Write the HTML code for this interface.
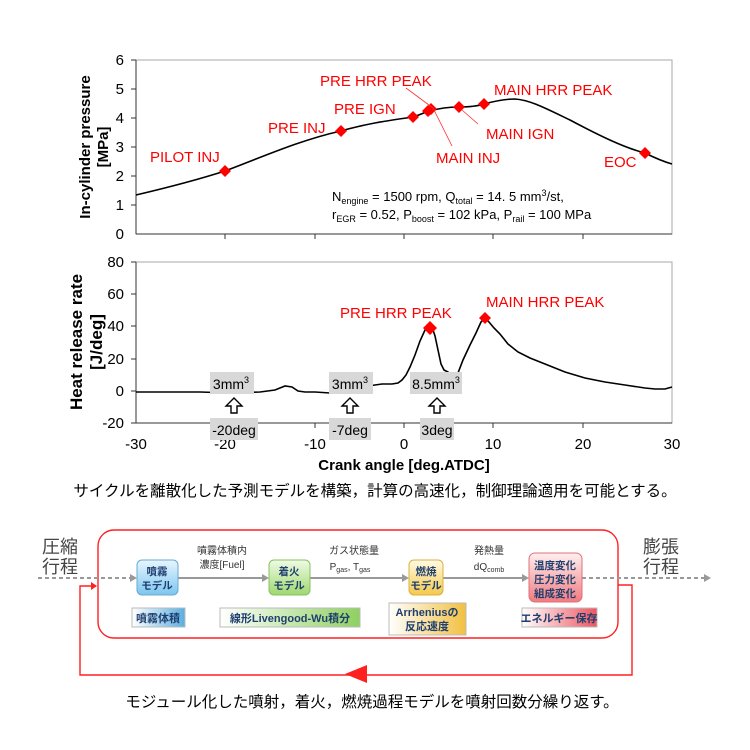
<!DOCTYPE html>
<html><head><meta charset="utf-8"><style>
html,body{margin:0;padding:0;background:#fff;}
svg{display:block;}
text{font-family:"Liberation Sans","Noto Sans CJK JP",sans-serif;}
</style></head><body>
<svg width="750" height="750" viewBox="0 0 750 750" xmlns="http://www.w3.org/2000/svg">
<defs>
<linearGradient id="gb" x1="0" y1="0" x2="0" y2="1"><stop offset="0" stop-color="#e8f6ff"/><stop offset="1" stop-color="#7cc6ef"/></linearGradient>
<linearGradient id="gg" x1="0" y1="0" x2="0" y2="1"><stop offset="0" stop-color="#effbe6"/><stop offset="1" stop-color="#9fd86e"/></linearGradient>
<linearGradient id="gy" x1="0" y1="0" x2="0" y2="1"><stop offset="0" stop-color="#fffbe6"/><stop offset="1" stop-color="#f5c94a"/></linearGradient>
<linearGradient id="gr" x1="0" y1="0" x2="0" y2="1"><stop offset="0" stop-color="#fff0f0"/><stop offset="1" stop-color="#f07a80"/></linearGradient>
<linearGradient id="lb" x1="0" y1="0" x2="1" y2="0"><stop offset="0" stop-color="#fff"/><stop offset="1" stop-color="#5aaee0"/></linearGradient>
<linearGradient id="lg" x1="0" y1="0" x2="1" y2="0"><stop offset="0" stop-color="#fff"/><stop offset="1" stop-color="#8fd060"/></linearGradient>
<linearGradient id="ly" x1="0" y1="0" x2="1" y2="0"><stop offset="0" stop-color="#fff"/><stop offset="1" stop-color="#f2c040"/></linearGradient>
<linearGradient id="lr" x1="0" y1="0" x2="1" y2="0"><stop offset="0" stop-color="#fff"/><stop offset="1" stop-color="#ee5560"/></linearGradient>
</defs>

<!-- TOP CHART -->
<rect x="136" y="60" width="536" height="174" fill="none" stroke="#aaa" stroke-width="1"/>
<line x1="136" y1="60" x2="136" y2="234" stroke="#333"/>
<line x1="136" y1="234" x2="672" y2="234" stroke="#333"/>
<g stroke="#333">
<line x1="131" y1="60" x2="136" y2="60"/><line x1="131" y1="89" x2="136" y2="89"/><line x1="131" y1="118" x2="136" y2="118"/><line x1="131" y1="147" x2="136" y2="147"/><line x1="131" y1="176" x2="136" y2="176"/><line x1="131" y1="205" x2="136" y2="205"/>
<line x1="225" y1="234" x2="225" y2="239"/><line x1="315" y1="234" x2="315" y2="239"/><line x1="404" y1="234" x2="404" y2="239"/><line x1="493" y1="234" x2="493" y2="239"/><line x1="583" y1="234" x2="583" y2="239"/>
</g>
<g font-size="15" text-anchor="end" fill="#000">
<text x="124" y="65">6</text><text x="124" y="94">5</text><text x="124" y="123">4</text><text x="124" y="152">3</text><text x="124" y="181">2</text><text x="124" y="210">1</text><text x="124" y="239">0</text>
</g>
<text transform="translate(90,147) rotate(-90)" font-size="15" font-weight="bold" text-anchor="middle">In-cylinder pressure</text>
<text transform="translate(108,147) rotate(-90)" font-size="15" font-weight="bold" text-anchor="middle">[MPa]</text>
<path d="M136,195 C170,187 200,179 225,171 C260,158 300,140 341,131 C365,124 385,121 413,117 C420,115 425,112 430,111 C440,108 450,107 459,107 C470,107 478,106 484,104 C495,101 505,99 515,99 C530,100 545,108 570,120 C600,136 625,148 645,153 C655,158 665,162 672,164" fill="none" stroke="#000" stroke-width="1.6"/>
<g fill="#ff0000">
<path d="M225,165 l6,6 -6,6 -6,-6z"/>
<path d="M341,125 l6,6 -6,6 -6,-6z"/>
<path d="M413,111 l6,6 -6,6 -6,-6z"/>
<path d="M428,105 l6,6 -6,6 -6,-6z"/>
<path d="M431,103 l6,6 -6,6 -6,-6z"/>
<path d="M459,101 l6,6 -6,6 -6,-6z"/>
<path d="M484,98 l6,6 -6,6 -6,-6z"/>
<path d="M645,147 l6,6 -6,6 -6,-6z"/>
</g>
<g stroke="#ff3030" stroke-width="0.8">
<line x1="406" y1="88" x2="433" y2="108"/><line x1="433" y1="108" x2="452" y2="146"/><line x1="462" y1="110" x2="478" y2="124"/>
</g>
<g fill="#ff0000" font-size="15">
<text x="150" y="162">PILOT INJ</text>
<text x="268" y="133">PRE INJ</text>
<text x="334" y="114">PRE IGN</text>
<text x="320" y="86">PRE HRR PEAK</text>
<text x="494" y="95">MAIN HRR PEAK</text>
<text x="486" y="139">MAIN IGN</text>
<text x="436" y="163">MAIN INJ</text>
<text x="604" y="167">EOC</text>
</g>
<g font-size="13" fill="#000">
<text x="332" y="201">N<tspan font-size="9" dy="3">engine</tspan><tspan dy="-3"> = 1500 rpm, Q</tspan><tspan font-size="9" dy="3">total</tspan><tspan dy="-3"> = 14. 5 mm</tspan><tspan font-size="9" dy="-5">3</tspan><tspan dy="5">/st,</tspan></text>
<text x="332" y="219">r<tspan font-size="9" dy="3">EGR</tspan><tspan dy="-3"> = 0.52, P</tspan><tspan font-size="9" dy="3">boost</tspan><tspan dy="-3"> = 102 kPa, P</tspan><tspan font-size="9" dy="3">rail</tspan><tspan dy="-3"> = 100 MPa</tspan></text>
</g>

<!-- BOTTOM CHART -->
<rect x="136" y="262" width="536" height="161" fill="none" stroke="#aaa"/>
<line x1="136" y1="262" x2="136" y2="423" stroke="#333"/>
<line x1="136" y1="423" x2="672" y2="423" stroke="#333"/>
<g stroke="#333">
<line x1="131" y1="262" x2="136" y2="262"/><line x1="131" y1="294" x2="136" y2="294"/><line x1="131" y1="326" x2="136" y2="326"/><line x1="131" y1="359" x2="136" y2="359"/><line x1="131" y1="391" x2="136" y2="391"/><line x1="131" y1="423" x2="136" y2="423"/>
<line x1="225" y1="423" x2="225" y2="428"/><line x1="315" y1="423" x2="315" y2="428"/><line x1="404" y1="423" x2="404" y2="428"/><line x1="493" y1="423" x2="493" y2="428"/><line x1="583" y1="423" x2="583" y2="428"/>
</g>
<g font-size="15" text-anchor="end">
<text x="124" y="267">80</text><text x="124" y="299">60</text><text x="124" y="331">40</text><text x="124" y="364">20</text><text x="124" y="396">0</text><text x="124" y="428">-20</text>
</g>
<g font-size="15" text-anchor="middle">
<text x="136" y="449">-30</text><text x="225" y="449">-20</text><text x="315" y="449">-10</text><text x="404" y="449">0</text><text x="493" y="449">10</text><text x="583" y="449">20</text><text x="672" y="449">30</text>
</g>
<text x="404" y="470" font-size="15" font-weight="bold" text-anchor="middle">Crank angle [deg.ATDC]</text>
<text transform="translate(82,342) rotate(-90)" font-size="17" font-weight="bold" text-anchor="middle">Heat release rate</text>
<text transform="translate(102,342) rotate(-90)" font-size="17" font-weight="bold" text-anchor="middle">[J/deg]</text>
<path d="M136,392 L200,392 L230,393 L260,392 L275,390 L285,386 L292,387 L298,391 L305,392 L315,392 L330,393 L340,391 L347,389 L352,385 L357,387 L362,388 L368,386 L375,385 L382,384 L392,384 L398,383 L402,380 L406,375 L410,367 L415,355 L420,341 L425,330 L428,325 L432,327 L435,336 L438,350 L441,364 L444,370 L448,372 L452,377 L455,385 L458,373 L463,360 L470,345 L476,333 L481,322 L485,318 L489,322 L494,328 L500,334 L508,344 L518,352 L530,358 L545,364 L565,372 L585,378 L605,382 L625,385 L645,388 L655,389 L665,389 L672,387" fill="none" stroke="#000" stroke-width="1.6"/>
<path d="M430,321 l7,7 -7,7 -7,-7z" fill="#ff0000"/>
<path d="M485,312 l6,6 -6,6 -6,-6z" fill="#ff0000"/>
<g fill="#ff0000" font-size="15">
<text x="340" y="318">PRE HRR PEAK</text>
<text x="486" y="307">MAIN HRR PEAK</text>
</g>
<g fill="#d8d8d8">
<rect x="210" y="372" width="44" height="22"/><rect x="210" y="418" width="48" height="22"/>
<rect x="329" y="372" width="44" height="22"/><rect x="329" y="418" width="42" height="22"/>
<rect x="410" y="372" width="52" height="22"/><rect x="420" y="418" width="34" height="22"/>
</g>
<g font-size="14" text-anchor="middle">
<text x="231" y="389">3mm<tspan font-size="9" dy="-6">3</tspan></text>
<text x="234" y="435">-20deg</text>
<text x="350" y="389">3mm<tspan font-size="9" dy="-6">3</tspan></text>
<text x="350" y="435">-7deg</text>
<text x="436" y="389">8.5mm<tspan font-size="9" dy="-6">3</tspan></text>
<text x="437" y="435">3deg</text>
</g>
<g fill="#fff" stroke="#000" stroke-width="1.4">
<path d="M234,398 l-8,8 h5 v7 h6 v-7 h5z"/>
<path d="M350,398 l-8,8 h5 v7 h6 v-7 h5z"/>
<path d="M437,398 l-8,8 h5 v7 h6 v-7 h5z"/>
</g>

<text x="375" y="496" font-size="15.5" text-anchor="middle">サイクルを離散化した予測モデルを構築，計算の高速化，制御理論適用を可能とする。</text>

<!-- DIAGRAM -->
<rect x="98" y="530" width="520" height="108" rx="16" fill="none" stroke="#ff2020" stroke-width="1.4"/>
<polyline points="618,585 632,585 632,675 80,675 80,586 94,586" fill="none" stroke="#ff2020" stroke-width="1.4"/>
<path d="M97,586 l-6,-4 v8z" fill="#ff2020"/>
<path d="M345,674 l22,-9 v18z" fill="#ff2020"/>
<g font-size="18" fill="#444">
<text x="42" y="553">圧縮</text><text x="42" y="573">行程</text>
<text x="643" y="553">膨張</text><text x="643" y="573">行程</text>
</g>
<g stroke="#999" stroke-width="2" fill="none">
<line x1="38" y1="578" x2="132" y2="578" stroke-dasharray="4,3"/>
<line x1="178" y1="578" x2="264" y2="578"/>
<line x1="310" y1="578" x2="404" y2="578"/>
<line x1="443" y1="578" x2="524" y2="578"/>
<line x1="582" y1="578" x2="706" y2="578" stroke-dasharray="4,3"/>
</g>
<g fill="#999">
<path d="M137,578 l-7,-4 v8z"/><path d="M269,578 l-7,-4 v8z"/><path d="M409,578 l-7,-4 v8z"/><path d="M529,578 l-7,-4 v8z"/><path d="M711,578 l-7,-4 v8z"/>
</g>
<rect x="137" y="560" width="41" height="35" rx="5" fill="url(#gb)" stroke="#6aa8d0"/>
<rect x="269" y="560" width="41" height="35" rx="5" fill="url(#gg)" stroke="#86c060"/>
<rect x="409" y="560" width="34" height="35" rx="5" fill="url(#gy)" stroke="#d8b040"/>
<rect x="529" y="553" width="53" height="49" rx="6" fill="url(#gr)" stroke="#e07078"/>
<g font-size="10.5" font-weight="bold" fill="#1f3f6f" text-anchor="middle">
<text x="157" y="575">噴霧</text><text x="157" y="589">モデル</text>
<text x="289" y="575">着火</text><text x="289" y="589">モデル</text>
<text x="426" y="575">燃焼</text><text x="426" y="589">モデル</text>
<text x="555" y="569">温度変化</text><text x="555" y="583">圧力変化</text><text x="555" y="597">組成変化</text>
</g>
<g font-size="10" fill="#333" text-anchor="middle">
<text x="222" y="554">噴霧体積内</text><text x="222" y="568">濃度[Fuel]</text>
<text x="354" y="554">ガス状態量</text><text x="350" y="570">P<tspan font-size="7" dy="2">gas</tspan><tspan dy="-2">, T</tspan><tspan font-size="7" dy="2">gas</tspan></text>
<text x="489" y="554">発熱量</text><text x="489" y="570">dQ<tspan font-size="7" dy="2">comb</tspan></text>
</g>
<rect x="132" y="608" width="53" height="19" fill="url(#lb)" stroke="#bbb"/>
<rect x="220" y="608" width="140" height="19" fill="url(#lg)" stroke="#bbb"/>
<rect x="389" y="603" width="77" height="32" fill="url(#ly)" stroke="#bbb"/>
<rect x="522" y="608" width="75" height="19" fill="url(#lr)" stroke="#bbb"/>
<g font-size="11" font-weight="bold" fill="#1f3f6f" text-anchor="middle">
<text x="158" y="622">噴霧体積</text>
<text x="290" y="622">線形Livengood-Wu積分</text>
<text x="427" y="616">Arrheniusの</text><text x="427" y="630">反応速度</text>
<text x="559" y="622">エネルギー保存</text>
</g>

<text x="372" y="707" font-size="15.5" text-anchor="middle">モジュール化した噴射，着火，燃焼過程モデルを噴射回数分繰り返す。</text>
</svg>
</body></html>
